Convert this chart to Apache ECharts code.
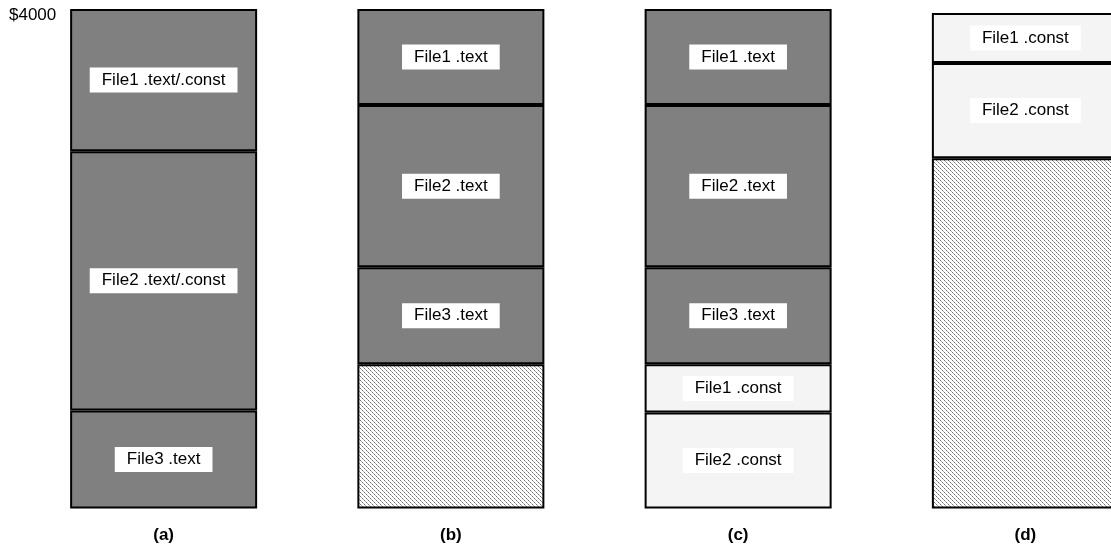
<!DOCTYPE html>
<html>
<head>
<meta charset="utf-8">
<script src="https://cdn.jsdelivr.net/npm/echarts@6/dist/echarts.min.js"></script>
<style>
html,body{margin:0;padding:0;background:#fff;}
#chart{width:1111px;height:547px;}
</style>
</head>
<body>
<div id="chart"></div>
<script>
// ---- data ----
const categories = ['(a)', '(b)', '(c)', '(d)'];
const topLabel = '$4000';
const freeSpace      = ['-', 144, '-', 350];
const file2Const     = ['-', '-', 96, 95];
const file1Const     = ['-', '-', 48, 50];
const file3Text      = [98, 97, 97, '-'];
const file2TextConst = [259, '-', '-', '-'];
const file1TextConst = [142, '-', '-', '-'];
const file2Text      = ['-', 162, 162, '-'];
const file1Text      = ['-', 96, 96, '-'];
const axisMax = 499;

// ---- hatch pattern ----
const pat = document.createElement('canvas');
pat.width = 4; pat.height = 4;
const pctx = pat.getContext('2d');
pctx.fillStyle = '#ffffff';
pctx.fillRect(0, 0, 4, 4);
for (let i = 0; i < 4; i++) {
  pctx.fillStyle = (i % 2 === 0) ? '#707070' : '#a8a8a8';
  pctx.fillRect(i, i, 1, 1);
}

const FONT = '"Liberation Sans", Arial, sans-serif';
const dark = '#808080';
const light = '#f4f4f4';

function seg(name, data, color, showLabel) {
  return {
    name: name,
    type: 'bar',
    stack: 'mem',
    data: data,
    barWidth: 187,
    animation: false,
    itemStyle: { color: color, borderColor: '#000', borderWidth: 2 },
    label: {
      show: showLabel,
      position: 'inside',
      formatter: name,
      color: '#000',
      fontFamily: FONT,
      fontSize: 17,
      lineHeight: 18,
      backgroundColor: '#ffffff',
      padding: [4, 12, 3, 12]
    },
    emphasis: { disabled: true }
  };
}

const chart = echarts.init(document.getElementById('chart'));
chart.setOption({
  backgroundColor: '#ffffff',
  title: {
    text: topLabel,
    left: 9, top: 7, padding: 0,
    textStyle: { fontFamily: FONT, fontSize: 17, fontWeight: 'normal', color: '#000' }
  },
  grid: { left: 20, right: -58, top: 9, bottom: 38.5, containLabel: false, outerBoundsMode: 'none' },
  xAxis: {
    type: 'category',
    data: categories,
    axisLine: { show: false },
    axisTick: { show: false },
    axisLabel: { fontFamily: FONT, fontSize: 17, fontWeight: 'bold', color: '#000', margin: 18 }
  },
  yAxis: {
    type: 'value', min: 0, max: axisMax,
    show: false,
    splitLine: { show: false }
  },
  series: [
    seg('free', freeSpace, { image: pat, repeat: 'repeat' }, false),
    seg('File2 .const', file2Const, light, true),
    seg('File1 .const', file1Const, light, true),
    seg('File3 .text', file3Text, dark, true),
    seg('File2 .text/.const', file2TextConst, dark, true),
    seg('File1 .text/.const', file1TextConst, dark, true),
    seg('File2 .text', file2Text, dark, true),
    seg('File1 .text', file1Text, dark, true)
  ]
});
</script>
</body>
</html>
